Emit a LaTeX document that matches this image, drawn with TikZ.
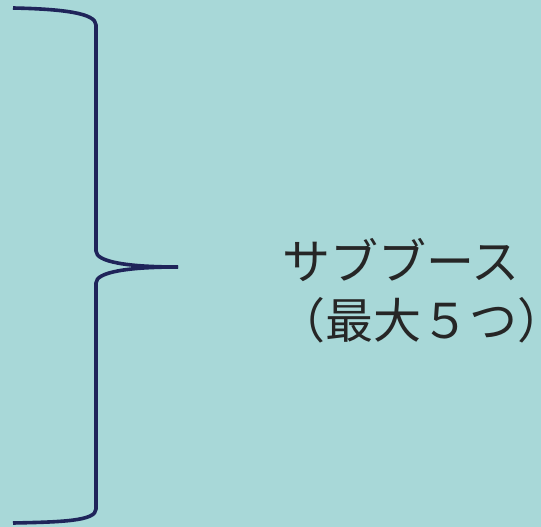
\documentclass[tikz,border=0pt]{standalone}
\usepackage{fontspec}
\newfontfamily\cjk{Noto Sans CJK JP}
\definecolor{bg}{HTML}{A8D8D8}
\definecolor{navy}{HTML}{1F245A}
\tikzset{
  bracestyle/.style={draw=navy, line width=3.6pt, line cap=butt, line join=round},
  label/.style={font=\cjk\fontsize{48}{58}\selectfont, text=black!85, inner sep=0pt, anchor=west}
}
\begin{document}
\begin{tikzpicture}[x=1pt,y=-1pt]
  \fill[bg] (0,0) rectangle (541,527);
  \useasboundingbox (0,0) rectangle (541,527);
  \draw[bracestyle] (13,8) .. controls (62,9) and (96,13) .. (96,25)
     -- (96,251) .. controls (96,262) and (128,267) .. (178,267);
  \draw[bracestyle] (178,267) .. controls (128,267) and (96,272) .. (96,283)
     -- (96,509) .. controls (96,521) and (62,522) .. (13,523);
  \node[label] (l1) at (282,260) {サブブース};
  \node[label] (l2) at (277,320) {（最大５つ\rlap{）}};
\end{tikzpicture}
\end{document}
